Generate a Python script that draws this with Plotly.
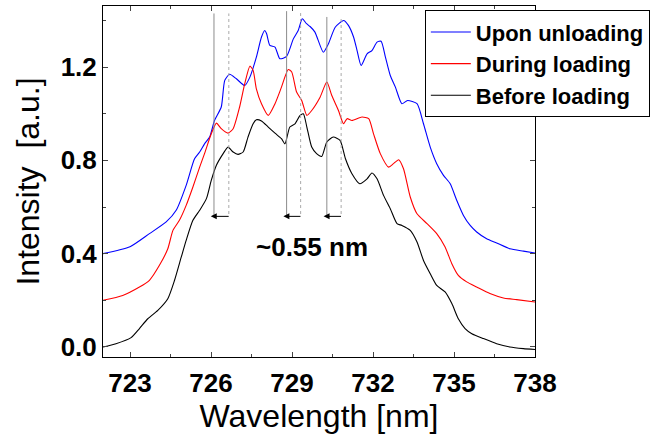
import plotly.graph_objects as go

# ---- data ----
wl_up = [722.0, 723.0, 723.72, 724.34, 724.71, 725.08, 725.39, 725.58, 725.76, 725.95, 726.13, 726.38, 726.51,
         726.69, 726.94, 727.25, 727.44, 727.68, 727.87, 727.99, 728.06, 728.18, 728.37, 728.55, 728.80, 729.05,
         729.23, 729.38, 729.54, 729.67, 729.85, 730.16, 730.35, 730.60, 730.91, 731.09, 731.28, 731.41, 731.56,
         731.78, 731.96, 732.15, 732.30, 732.46, 732.64, 732.83, 733.07, 733.28, 733.63, 733.87, 734.12, 734.36,
         734.61, 734.86, 735.10, 735.35, 735.60, 735.84, 736.21, 736.58, 737.07, 737.57, 738.0]
int_up = [0.40, 0.43, 0.486, 0.536, 0.586, 0.693, 0.807, 0.836, 0.871, 0.90, 0.971, 1.029, 1.143,
          1.169, 1.15, 1.121, 1.157, 1.243, 1.329, 1.357, 1.343, 1.293, 1.286, 1.236, 1.246, 1.321,
          1.357, 1.407, 1.386, 1.374, 1.35, 1.264, 1.30, 1.371, 1.40, 1.379, 1.329, 1.271, 1.207,
          1.257, 1.271, 1.307, 1.311, 1.243, 1.164, 1.114, 1.043, 1.057, 1.043, 0.957, 0.857, 0.786,
          0.736, 0.70, 0.629, 0.564, 0.521, 0.493, 0.464, 0.446, 0.421, 0.411, 0.403]

wl_dur = [722.0, 722.73, 723.35, 723.72, 724.09, 724.40, 724.59, 724.83, 725.08, 725.33, 725.58, 725.76,
          726.01, 726.20, 726.38, 726.63, 726.82, 727.06, 727.25, 727.44, 727.56, 727.68, 727.87, 728.12,
          728.37, 728.61, 728.86, 728.99, 729.17, 729.36, 729.55, 729.73, 730.04, 730.29, 730.47, 730.72,
          730.91, 731.04, 731.22, 731.59, 731.84, 732.02, 732.27, 732.58, 732.76, 732.95, 733.13, 733.38,
          733.63, 734.0, 734.36, 734.67, 734.92, 735.16, 735.47, 735.84, 736.33, 736.83, 737.32, 738.0]
int_dur = [0.20, 0.221, 0.257, 0.286, 0.35, 0.421, 0.50, 0.543, 0.607, 0.686, 0.771, 0.829,
           0.914, 0.96, 0.936, 0.917, 0.936, 1.029, 1.129, 1.204, 1.186, 1.107, 1.043, 0.993,
           1.043, 1.114, 1.19, 1.179, 1.093, 1.057, 0.993, 1.014, 1.071, 1.136, 1.079, 1.014,
           0.957, 0.979, 0.971, 0.986, 0.979, 0.914, 0.829, 0.771, 0.786, 0.803, 0.764, 0.643,
           0.571, 0.529, 0.486, 0.429, 0.357, 0.307, 0.279, 0.257, 0.229, 0.21, 0.203, 0.193]

wl_bef = [722.0, 722.48, 723.04, 723.35, 723.66, 724.03, 724.40, 724.65, 724.90, 725.08, 725.33, 725.58,
          725.83, 726.01, 726.20, 726.45, 726.63, 726.82, 727.00, 727.19, 727.37, 727.56, 727.68, 727.87,
          728.12, 728.37, 728.61, 728.74, 728.92, 729.11, 729.30, 729.42, 729.55, 729.73, 729.91, 730.10,
          730.29, 730.53, 730.78, 730.98, 731.22, 731.51, 731.78, 731.96, 732.15, 732.39, 732.64, 732.89,
          733.07, 733.38, 733.63, 733.87, 734.12, 734.36, 734.67, 734.92, 735.16, 735.41, 735.66, 736.09,
          736.58, 737.07, 737.57, 738.0]
int_bef = [0.0, 0.014, 0.04, 0.079, 0.121, 0.157, 0.207, 0.286, 0.386, 0.457, 0.543, 0.586,
           0.636, 0.714, 0.779, 0.829, 0.857, 0.836, 0.826, 0.836, 0.90, 0.957, 0.974, 0.969,
           0.943, 0.917, 0.893, 0.871, 0.943, 0.957, 0.993, 1.0, 0.943, 0.857, 0.829, 0.817,
           0.879, 0.90, 0.886, 0.807, 0.743, 0.70, 0.721, 0.746, 0.721, 0.65, 0.593, 0.529,
           0.521, 0.50, 0.45, 0.371, 0.314, 0.264, 0.236, 0.186, 0.121, 0.079, 0.057, 0.036,
           0.014, 0.0, -0.007, -0.011]

series_names = ["Upon unloading", "During loading", "Before loading"]
series_colors = ["#0000ff", "#ff0000", "#000000"]

# peak positions before (solid) and after (dashed) shift
peaks_solid = [726.11, 728.80, 730.29]
peaks_dashed = [726.66, 729.32, 730.82]
line_top = [1.43, 1.44, 1.415]
line_bottom = 0.56
shift_label = "~0.55 nm"

FONT = "Liberation Sans, Arial, sans-serif"

fig = go.Figure()
for wl, val, name, col in zip([wl_up, wl_dur, wl_bef], [int_up, int_dur, int_bef], series_names, series_colors):
    fig.add_trace(go.Scatter(x=wl, y=val, mode="lines", name=name,
                             line=dict(color=col, width=1.1, shape="spline", smoothing=0.6)))

shapes = []
for xs, xd, top in zip(peaks_solid, peaks_dashed, line_top):
    shapes.append(dict(type="line", xref="x", yref="y", x0=xs, x1=xs, y0=line_bottom, y1=top,
                       line=dict(color="#8c8c8c", width=1)))
    shapes.append(dict(type="line", xref="x", yref="y", x0=xd, x1=xd, y0=line_bottom + 0.01, y1=top,
                       line=dict(color="#aaaaaa", width=1, dash="dot")))

annotations = []
for xs, xd in zip(peaks_solid, peaks_dashed):
    annotations.append(dict(x=xs - 0.12, y=line_bottom, xref="x", yref="y",
                            ax=xd + 0.05, ay=line_bottom, axref="x", ayref="y",
                            text="", showarrow=True, arrowhead=2, arrowsize=1.2, arrowwidth=1,
                            arrowcolor="black"))
annotations.append(dict(x=729.75, y=0.43, xref="x", yref="y", text="<b>%s</b>" % shift_label,
                        showarrow=False, font=dict(family=FONT, size=26, color="black")))

fig.update_layout(
    width=672, height=436,
    margin=dict(l=103, r=137, t=6, b=79),
    paper_bgcolor="white", plot_bgcolor="white",
    font=dict(family=FONT, color="black"),
    shapes=shapes, annotations=annotations,
    legend=dict(x=0.745, y=0.988, xanchor="left", yanchor="top",
                bgcolor="white", bordercolor="black", borderwidth=1,
                font=dict(family=FONT, size=22, weight="bold", color="black"),
                tracegroupgap=0, itemwidth=40),
)
fig.update_xaxes(range=[722, 738], tick0=723, dtick=3, ticks="inside", ticklen=5,
                 tickfont=dict(family=FONT, size=26, weight="bold"), ticklabelstandoff=3,
                 minor=dict(ticks="inside", ticklen=3, dtick=1.5, tick0=723),
                 showline=True, linecolor="black", linewidth=1, mirror="ticks",
                 showgrid=False, zeroline=False, automargin=False,
                 title=dict(text="Wavelength [nm]", font=dict(family=FONT, size=32), standoff=2))
fig.update_yaxes(range=[-0.043, 1.462], tick0=0, dtick=0.4, tickformat=".1f", ticks="inside", ticklen=5,
                 tickfont=dict(family=FONT, size=26, weight="bold"),
                 minor=dict(ticks="inside", ticklen=3, dtick=0.2, tick0=0),
                 showline=True, linecolor="black", linewidth=1, mirror="ticks",
                 showgrid=False, zeroline=False, automargin=False,
                 title=dict(text="Intensity\u00a0\u00a0[a.u.]", font=dict(family=FONT, size=32), standoff=11))

fig.write_html("out.html", config={"displayModeBar": False},
               post_script="document.body.style.margin='0';")
